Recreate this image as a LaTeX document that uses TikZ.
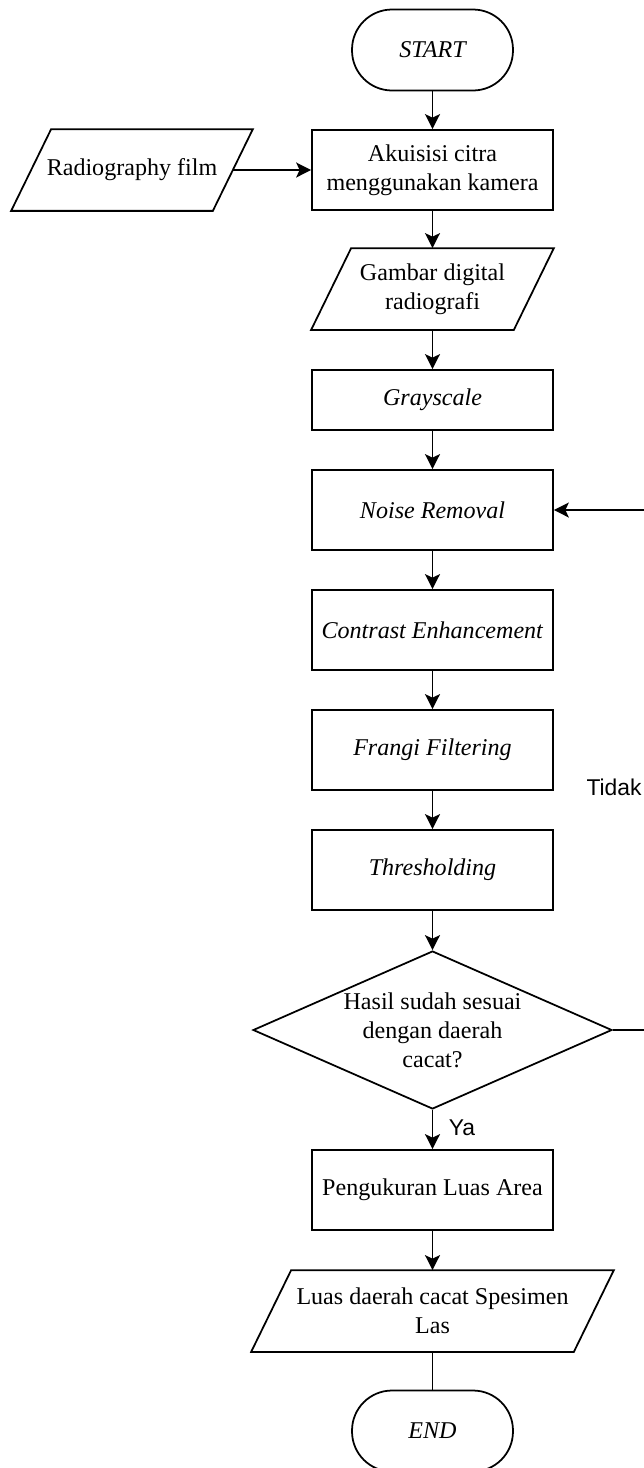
\documentclass[tikz,border=0pt]{standalone}
\usepackage{fontspec}
\setmainfont{Liberation Serif}
\newfontfamily\labelfont{Liberation Sans}
\usetikzlibrary{shapes.geometric,arrows.meta}
\begin{document}
\begin{tikzpicture}[x=0.02cm,y=-0.02cm,line width=1pt,
    font=\fontsize{13.7}{16.5}\selectfont,
    terminal/.style={draw,rectangle,rounded corners=0.8cm,minimum width=3.22cm,
      minimum height=1.62cm,font=\fontsize{13.7}{16.5}\selectfont\itshape},
    process/.style={draw,rectangle,minimum width=4.82cm,minimum height=1.6cm,align=center},
    io/.style={rectangle,minimum height=1.6cm,align=center,
      append after command={([xshift=-0.4cm]\tikzlastnode.south west)
        -- ([xshift=0.4cm]\tikzlastnode.north west)
        -- ([xshift=0.4cm]\tikzlastnode.north east)
        -- ([xshift=-0.4cm]\tikzlastnode.south east) -- cycle}},
    decision/.style={draw,diamond,shape aspect=2.27,minimum width=7.18cm,
      minimum height=3.16cm,inner sep=0pt,align=center},
    edgelabel/.style={font=\labelfont\fontsize{13}{15}\selectfont},
    flow/.style={-{Stealth[length=0.3cm,width=0.3cm,inset=0.07cm]}}]
      \useasboundingbox (0,0) rectangle (643,1468);
      \draw
        (432.5,50) node[terminal] (start){START}
        (132,170) node[io,minimum width=4cm] (film){Radiography film}
        (432.5,170) node[process] (akuisisi){Akuisisi citra\\menggunakan kamera}
        (432.5,289) node[io,minimum width=4.02cm] (digital){Gambar digital\\radiografi}
        (432.5,400) node[process,minimum height=1.2cm] (gray){\textit{Grayscale}}
        (432.5,510) node[process] (noise){\textit{Noise Removal}}
        (432.5,630) node[process] (contrast){\textit{Contrast Enhancement}}
        (432.5,750) node[process] (frangi){\textit{Frangi Filtering}}
        (432.5,870) node[process] (thresh){\textit{Thresholding}}
        (432.5,1030) node[decision] (cek){Hasil sudah sesuai\\dengan daerah\\cacat?}
        (432.5,1190) node[process] (ukur){Pengukuran Luas Area}
        (432.5,1311) node[io,minimum width=6.42cm] (luas){Luas daerah cacat Spesimen\\Las}
        (432.5,1431) node[terminal] (end){END}
        (462,1128) node[edgelabel] (ya){Ya}
        (614,787) node[edgelabel] (tidak){Tidak};
      \begin{scope}[flow]
        \draw (start) to (akuisisi);
        \draw (film) to (akuisisi);
        \draw (akuisisi) to (digital);
        \draw (digital) to (gray);
        \draw (gray) to (noise);
        \draw (noise) to (contrast);
        \draw (contrast) to (frangi);
        \draw (frangi) to (thresh);
        \draw (thresh) to (cek);
        \draw (cek) to (ukur);
        \draw (ukur) to (luas);
        \draw (cek.east) -- ++(100,0) |- (noise.east);
      \end{scope}
      \draw (luas) -- (end);
    \end{tikzpicture}
\end{document}
